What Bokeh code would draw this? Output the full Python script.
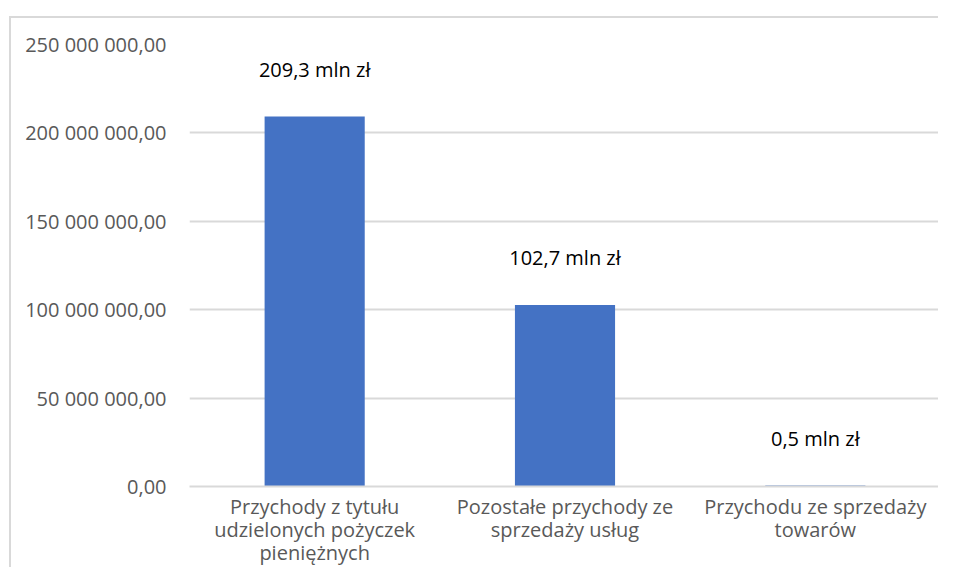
from bokeh.plotting import figure
from bokeh.models import ColumnDataSource, Range1d, FactorRange, FixedTicker, CustomJSTickFormatter
from bokeh.core.properties import value
from bokeh.embed import file_html
from bokeh.resources import INLINE

categories = [
    "Przychody z tytułu\nudzielonych pożyczek\npieniężnych",
    "Pozostałe przychody ze\nsprzedaży usług",
    "Przychodu ze sprzedaży\ntowarów",
]
values = [209300000, 102700000, 500000]
value_labels = ["209,3 mln zł", "102,7 mln zł", "0,5 mln zł"]
y_ticks = [0, 50000000, 100000000, 150000000, 200000000, 250000000]

FONT = "Open Sans"
GRID = "#d9d9d9"

src = ColumnDataSource(dict(cat=categories, val=values, lab=value_labels))

p = figure(
    width=929, height=551,
    x_range=FactorRange(factors=categories, range_padding=0),
    y_range=Range1d(0, 250000000),
    output_backend="svg", toolbar_location=None, tools="",
    min_border_left=178, min_border_right=0, min_border_top=26, min_border_bottom=80,
    margin=(16, 0, 0, 9),
    styles={"border-top": "2px solid #d9d9d9", "border-left": "2px solid #d9d9d9"},
)
p.outline_line_color = None
p.background_fill_color = "white"
p.border_fill_color = "white"

p.vbar(x="cat", top="val", width=0.4, source=src, fill_color="#4472C4", line_color=None)

p.text(x="cat", y="val", text="lab", source=src, text_align="center", text_baseline="middle",
       y_offset=-47, text_font=value(FONT), text_font_size="20px", text_color="#000000")

p.xgrid.grid_line_color = None
p.ygrid.grid_line_color = GRID
p.ygrid.grid_line_width = 2
p.yaxis.ticker = FixedTicker(ticks=y_ticks)
p.yaxis.formatter = CustomJSTickFormatter(code=r"""
const s = Math.round(tick).toString().replace(/\B(?=(\d{3})+(?!\d))/g, ' ');
return s + ',00';
""")
p.yaxis.axis_line_color = None
p.yaxis.major_tick_line_color = None
p.yaxis.minor_tick_line_color = None
p.yaxis.major_label_standoff = 17
p.yaxis.major_label_text_font = FONT
p.yaxis.major_label_text_font_size = "20px"
p.yaxis.major_label_text_color = "#595959"

p.xaxis.axis_line_color = GRID
p.xaxis.axis_line_width = 2
p.xaxis.major_tick_line_color = None
p.xaxis.minor_tick_line_color = None
p.xaxis.major_label_standoff = 0
p.xaxis.major_label_text_font = FONT
p.xaxis.major_label_text_font_size = "20px"
p.xaxis.major_label_text_color = "#595959"
p.xaxis.major_label_text_line_height = 0.87

open("out.html", "w").write(file_html(p, INLINE))
